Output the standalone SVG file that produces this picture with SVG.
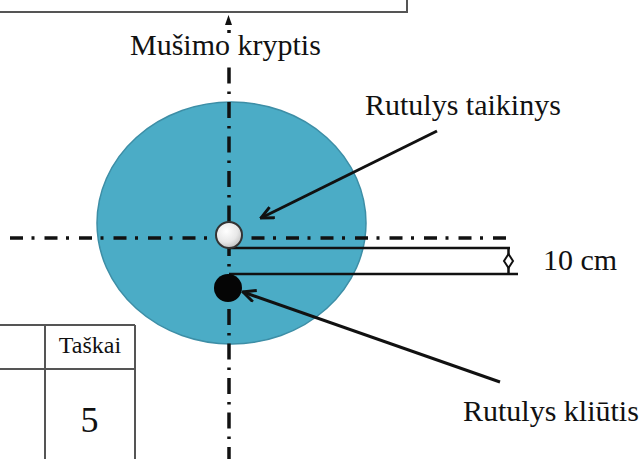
<svg xmlns="http://www.w3.org/2000/svg" width="642" height="459" viewBox="0 0 642 459">
  <style>
    .lbl { font-family: "Liberation Serif", "Times New Roman", serif; font-size: 30px; fill: #111; }
    .axis { fill: none; stroke: #111; stroke-width: 3.5; }
    .rule { fill: none; stroke: #111; stroke-width: 2.5; }
    .grid { fill: none; stroke: #555; stroke-width: 2; }
    .ptr { fill: none; stroke: #111; stroke-width: 3; marker-end: url(#vee); }
  </style>
  <defs>
    <marker id="vee" viewBox="0 0 15 14" refX="13.5" refY="7" markerWidth="15" markerHeight="14" markerUnits="userSpaceOnUse" orient="auto">
      <path d="M1,1 L13.5,7 L1,13" fill="none" stroke="#111" stroke-width="3"/>
    </marker>
    <radialGradient id="pearl" cx="0.4" cy="0.35" r="0.7">
      <stop offset="0" stop-color="#ffffff"/>
      <stop offset="0.6" stop-color="#e8e8e8"/>
      <stop offset="1" stop-color="#bdbdbd"/>
    </radialGradient>
  </defs>

  <rect width="642" height="459" fill="#ffffff"/>

  <!-- frame of the box above, cut at the top edge -->
  <g id="top-box">
    <path d="M0,12 H407 V0" class="grid" stroke="#333"/>
  </g>

  <!-- target zone -->
  <g id="target-zone">
    <ellipse cx="231.5" cy="223" rx="134.5" ry="121" fill="#4bacc6" stroke="#3d8ea6" stroke-width="1.5"/>
  </g>

  <!-- centre lines -->
  <g id="axes">
    <line x1="-24.5" y1="238" x2="507" y2="238" class="axis" stroke-dasharray="13 8.5 3 10"/>
    <line x1="229" y1="67.5" x2="229" y2="459" class="axis" stroke-dasharray="16 8 2.5 8"/>
    <line x1="229" y1="30" x2="229" y2="33" class="axis" stroke="#555"/>
    <path d="M228.5,15 L232,25 L225,25 Z" fill="#111"/>
  </g>

  <!-- 10 cm offset dimension -->
  <g id="offset-dimension">
    <line x1="229" y1="248" x2="510" y2="248" class="rule"/>
    <line x1="229" y1="274" x2="518" y2="274" class="rule"/>
    <line x1="508.5" y1="248" x2="508.5" y2="274" class="rule" stroke-width="2"/>
    <path d="M508.5,254 L513,261 L508.5,268 L504,261 Z" fill="#fff" stroke="#111" stroke-width="2"/>
    <text class="lbl" x="543" y="270">10 cm</text>
  </g>

  <g id="target-ball">
    <circle cx="229" cy="235" r="13" fill="url(#pearl)" stroke="#333" stroke-width="2"/>
  </g>

  <g id="obstacle-ball">
    <circle cx="228" cy="288" r="14" fill="#050505"/>
  </g>

  <g id="direction-label">
    <text class="lbl" x="130" y="55">Mušimo kryptis</text>
  </g>

  <g id="target-label">
    <text class="lbl" x="365" y="115">Rutulys taikinys</text>
  </g>

  <g id="obstacle-label">
    <text class="lbl" x="463" y="421">Rutulys kliūtis</text>
  </g>

  <!-- score table -->
  <g id="score-table">
    <path d="M0,325 H135 M0,369 H135 M45,325 V459 M135,325 V459" class="grid"/>
    <text x="90" y="353" text-anchor="middle" font-family="'Liberation Serif', 'Times New Roman', serif" font-size="24" fill="#111">Taškai</text>
    <text x="89.5" y="432" text-anchor="middle" font-family="'Liberation Serif', 'Times New Roman', serif" font-size="36" fill="#111">5</text>
  </g>

  <!-- pointers from labels to balls -->
  <g id="connectors">
    <line x1="437" y1="131" x2="261" y2="218" class="ptr"/>
    <line x1="500" y1="382" x2="243" y2="292" class="ptr"/>
  </g>
</svg>
